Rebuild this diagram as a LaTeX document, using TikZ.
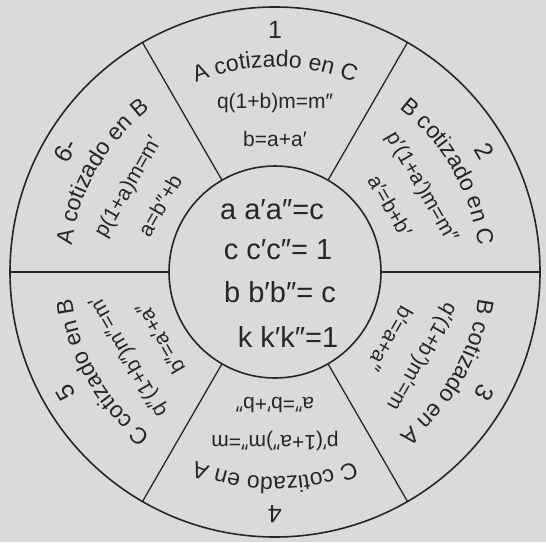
\documentclass[tikz,border=0pt]{standalone}
\usepackage{fontspec}
\setmainfont{Liberation Sans}
\usetikzlibrary{decorations.text}
\definecolor{bg}{RGB}{218,218,216}
\definecolor{ink}{RGB}{38,38,38}
\newcommand\numfont{\fontsize{25pt}{25pt}\selectfont}
\newcommand\ttlfont{\fontsize{23pt}{23pt}\selectfont}
\newcommand\frmfont{\fontsize{21pt}{21pt}\selectfont}
\newcommand\cenfont{\fontsize{29pt}{29pt}\selectfont}
\tikzset{
  ring/.style={circle, draw=ink, line width=1.6pt, inner sep=0pt, outer sep=0pt},
  divider/.style={draw=ink, line width=1.3pt},
  numtxt/.style={text=ink, font=\numfont, inner sep=0pt},
  frm/.style={text=ink, font=\frmfont, inner sep=0pt},
  cen/.style={text=ink, font=\cenfont, inner sep=1pt},
  ttl/.style={decorate, decoration={text along path, text align=center, text color=ink}}
}
\begin{document}
\begin{tikzpicture}
\fill[bg] (-275pt,-270pt) rectangle (271pt,272pt);
\useasboundingbox (-275pt,-270pt) rectangle (271pt,272pt);
\node[ring, minimum size=530pt] (outer) at (0,0) {};
\node[ring, minimum size=212pt] (inner) at (0,0) {};
\foreach \a in {0,60,120,180,240,300}
  \draw[divider] (inner.\a) -- (outer.\a);

\foreach \i/\ang/\num/\fa/\fb in {
  1/90/1/{q(1+b)m=m″}/{b=a+a′},
  2/30/2/{p′(1+a′)m=m″}/{a′=b+b′},
  3/-30/3/{q′(1+b′)m′=m}/{b′=a+a″},
  4/-90/4/{p′(1+a″)m″=m}/{a″=b′+b″},
  5/-150/5/{q″(1+b″)m″=m′}/{b″=a′+a″},
  6/150/6-/{p(1+a)m=m′}/{a=b″+b}}
{
  \node[numtxt, rotate=\ang-90] (num\i) at (\ang:242pt) {\num};
  \node[frm, rotate=\ang-90] (fa\i) at (\ang:169pt) {\fa};
  \node[frm, rotate=\ang-90] (fb\i) at (\ang:133pt) {\fb};
}

\path[ttl, decoration={text={|\ttlfont|A cotizado en C}}]
  (120:205pt) arc[start angle=120, end angle=60, radius=205pt];
\path[ttl, decoration={text={|\ttlfont|B cotizado en C}}]
  (60:205pt) arc[start angle=60, end angle=0, radius=205pt];
\path[ttl, decoration={text={|\ttlfont|B cotizado en A}}]
  (0:205pt) arc[start angle=0, end angle=-60, radius=205pt];
\path[ttl, decoration={text={|\ttlfont|C cotizado en A}}]
  (-60:205pt) arc[start angle=-60, end angle=-120, radius=205pt];
\path[ttl, decoration={text={|\ttlfont|C cotizado en B}}]
  (-120:205pt) arc[start angle=-120, end angle=-180, radius=205pt];
\path[ttl, decoration={text={|\ttlfont|A cotizado en B}}]
  (180:205pt) arc[start angle=180, end angle=120, radius=205pt];

\node[cen] (c1) at (-3pt,62pt) {a a′a″=c};
\node[cen] (c2) at (3pt,22pt) {c c′c″= 1};
\node[cen] (c3) at (5pt,-20pt) {b b′b″= c};
\node[cen] (c4) at (13pt,-65pt) {k k′k″=1};
\end{tikzpicture}
\end{document}
